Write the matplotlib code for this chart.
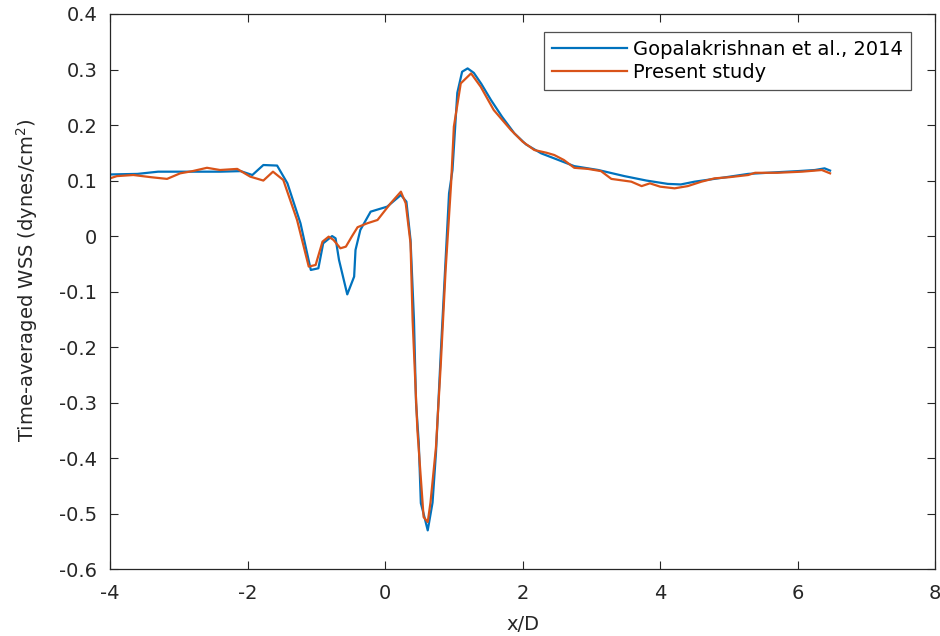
import matplotlib
matplotlib.use("Agg")
import matplotlib.pyplot as plt
from matplotlib.ticker import FuncFormatter

# wall shear stress along the vessel, reference data
x_ref = [-4.0, -3.6, -3.3, -2.8, -2.4, -2.1, -1.93, -1.77, -1.57, -1.42, -1.23,
         -1.08, -0.97, -0.9, -0.77, -0.72, -0.67, -0.55, -0.45, -0.43, -0.36,
         -0.21, 0.03, 0.23, 0.31, 0.37, 0.42, 0.45, 0.49, 0.52, 0.57, 0.62,
         0.69, 0.74, 0.81, 0.86, 0.93, 0.98, 1.05, 1.12, 1.2, 1.29, 1.4, 1.54,
         1.7, 1.88, 2.05, 2.27, 2.5, 2.75, 3.1, 3.48, 3.8, 4.11, 4.3, 4.5,
         4.9, 5.28, 5.7, 6.0, 6.25, 6.39, 6.47]
wss_ref = [0.111, 0.112, 0.116, 0.116, 0.116, 0.117, 0.110, 0.128, 0.127, 0.095,
           0.023, -0.061, -0.058, -0.013, 0.000, -0.004, -0.043, -0.105, -0.073,
           -0.025, 0.011, 0.044, 0.053, 0.074, 0.062, -0.007, -0.151, -0.300,
           -0.373, -0.481, -0.505, -0.530, -0.480, -0.390, -0.210, -0.090, 0.077,
           0.119, 0.258, 0.296, 0.302, 0.294, 0.274, 0.245, 0.215, 0.185, 0.165,
           0.149, 0.138, 0.126, 0.119, 0.108, 0.100, 0.094, 0.093, 0.098, 0.105,
           0.112, 0.115, 0.117, 0.119, 0.122, 0.118]

# present simulation
x_sim = [-4.0, -3.9, -3.66, -3.4, -3.17, -2.98, -2.8, -2.59, -2.4, -2.15, -1.96,
         -1.85, -1.77, -1.63, -1.48, -1.28, -1.11, -1.01, -0.91, -0.82, -0.75,
         -0.65, -0.57, -0.48, -0.4, -0.26, -0.11, 0.08, 0.23, 0.3, 0.37, 0.4,
         0.47, 0.56, 0.62, 0.66, 0.74, 0.81, 0.88, 0.96, 1.0, 1.1, 1.25, 1.39,
         1.58, 1.83, 2.0, 2.17, 2.35, 2.46, 2.6, 2.75, 2.95, 3.14, 3.29, 3.58,
         3.73, 3.85, 4.0, 4.21, 4.4, 4.6, 4.79, 5.0, 5.28, 5.38, 5.7, 6.06,
         6.35, 6.47]
wss_sim = [0.104, 0.108, 0.110, 0.106, 0.103, 0.113, 0.117, 0.123, 0.119, 0.121,
           0.107, 0.103, 0.100, 0.116, 0.101, 0.029, -0.055, -0.052, -0.010,
           -0.001, -0.007, -0.022, -0.019, 0.000, 0.016, 0.023, 0.029, 0.059,
           0.080, 0.059, -0.013, -0.151, -0.350, -0.506, -0.515, -0.480, -0.380,
           -0.230, -0.061, 0.095, 0.197, 0.275, 0.293, 0.269, 0.227, 0.191, 0.170,
           0.155, 0.150, 0.146, 0.137, 0.123, 0.121, 0.117, 0.103, 0.098, 0.090,
           0.095, 0.089, 0.086, 0.090, 0.098, 0.104, 0.106, 0.110, 0.114, 0.114,
           0.116, 0.119, 0.113]

plt.rcParams["font.family"] = ["DejaVu Sans"]
plt.rcParams["axes.unicode_minus"] = False

fig = plt.figure(figsize=(9.4, 6.36), dpi=100)
ax = fig.add_axes([0.117, 0.105, 0.878, 0.873])

ax.plot(x_ref, wss_ref, color=(0, 0.447, 0.741), lw=1.6,
        label="Gopalakrishnan et al., 2014")
ax.plot(x_sim, wss_sim, color=(0.85, 0.325, 0.098), lw=1.6,
        label="Present study")

ax.set_xlim(-4, 8)
ax.set_ylim(-0.6, 0.4)
ax.set_xticks(range(-4, 9, 2))
ax.set_yticks([i / 10 for i in range(-6, 5)])
ax.yaxis.set_major_formatter(FuncFormatter(lambda v, p: "%g" % round(v, 2)))
ax.tick_params(direction="in", top=True, right=True, labelsize=14,
               length=6, width=0.8, colors="#262626", labelcolor="#262626")
ax.tick_params(axis="x", pad=11)
ax.tick_params(axis="y", pad=9)
for s in ax.spines.values():
    s.set_linewidth(0.9)
    s.set_color("#262626")

ax.set_xlabel("x/D", fontsize=14, color="#262626")
ax.set_ylabel("Time-averaged WSS (dynes/cm$^2$)", fontsize=14, color="#262626")
ax.xaxis.set_label_coords(0.5, -0.083)
ax.yaxis.set_label_coords(-0.085, 0.52)

leg = ax.legend(loc="upper right", bbox_to_anchor=(0.970, 0.968),
                borderaxespad=0, fontsize=14, handlelength=3.85,
                frameon=True, fancybox=False, borderpad=0.4,
                labelspacing=0.22, handletextpad=0.3)
leg.get_frame().set_edgecolor("#262626")
leg.get_frame().set_linewidth(0.9)

fig.savefig("out.png", dpi=100)
